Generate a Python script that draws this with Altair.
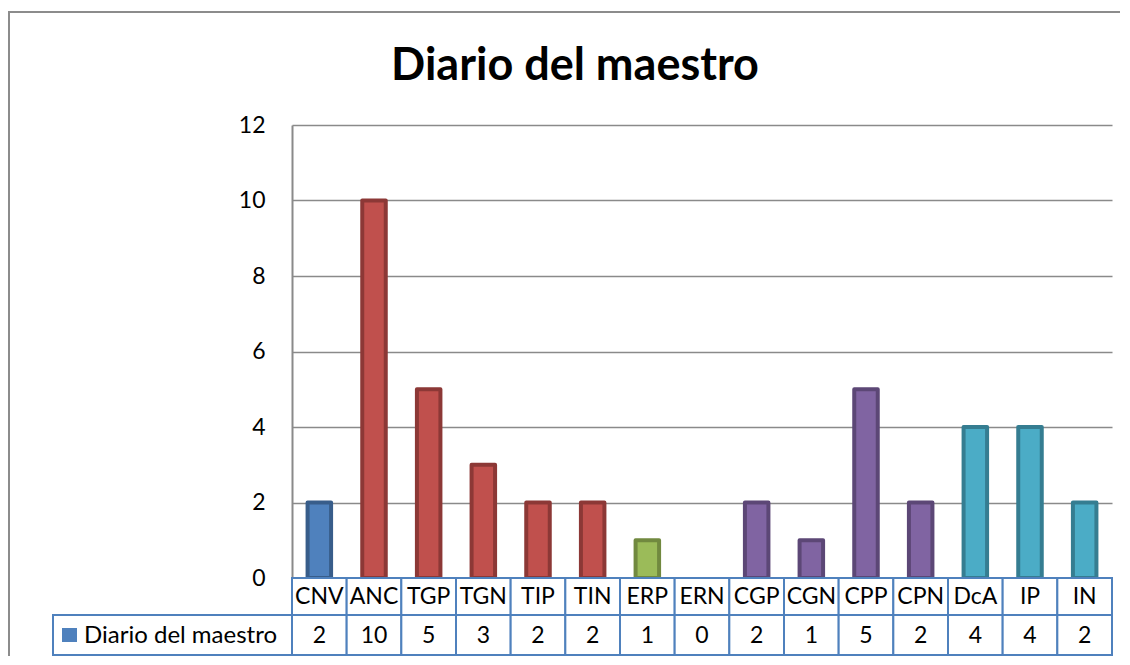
import altair as alt
import pandas as pd

categories = ["CNV", "ANC", "TGP", "TGN", "TIP", "TIN", "ERP", "ERN",
              "CGP", "CGN", "CPP", "CPN", "DcA", "IP", "IN"]
values = [2, 10, 5, 3, 2, 2, 1, 0, 2, 1, 5, 2, 4, 4, 2]
fill_colors = ["#4F81BD", "#C0504D", "#C0504D", "#C0504D", "#C0504D", "#C0504D",
               "#9BBB59", "#9BBB59", "#8064A2", "#8064A2", "#8064A2", "#8064A2",
               "#4BACC6", "#4BACC6", "#4BACC6"]
stroke_colors = ["#385D8A", "#8C3836", "#8C3836", "#8C3836", "#8C3836", "#8C3836",
                 "#71893F", "#71893F", "#5C4776", "#5C4776", "#5C4776", "#5C4776",
                 "#357D91", "#357D91", "#357D91"]
y_ticks = [0, 2, 4, 6, 8, 10, 12]
series_name = "Diario del maestro"
title_text = "Diario del maestro"

df = pd.DataFrame({"cat": categories, "val": values,
                   "fill": fill_colors, "stroke": stroke_colors})
df["label"] = df["val"].astype(str)

W, H = 820, 453
TABLE = "#4F81BD"
GRID = "#8A8A8A"
FONT = "Lato"
FS = 23

xband = alt.X("cat:N", sort=categories,
              scale=alt.Scale(paddingInner=0, paddingOuter=0), axis=None)

base = alt.Chart(df)

bars = base.transform_filter("datum.val > 0").mark_bar(
    width=alt.RelativeBandSize(0.43), strokeWidth=4, strokeJoin="round"
).encode(
    x=xband,
    y=alt.Y("val:Q", scale=alt.Scale(domain=[0, 12], nice=False),
            axis=alt.Axis(values=y_ticks, title=None, grid=True, gridColor=GRID,
                          gridWidth=1.5, domainColor=GRID, domainWidth=2,
                          ticks=False, labelFontSize=FS, labelFont=FONT,
                          labelColor="black", labelPadding=27)),
    color=alt.Color("fill:N", scale=None),
    stroke=alt.Stroke("stroke:N", scale=None),
)

row1 = base.mark_rect(fill="white", stroke=TABLE, strokeWidth=2).encode(
    x=xband, y=alt.value(H), y2=alt.value(H + 37))
row2 = base.mark_rect(fill="white", stroke=TABLE, strokeWidth=2).encode(
    x=xband, y=alt.value(H + 37), y2=alt.value(H + 77))
cat_text = base.mark_text(fontSize=FS, font=FONT, color="black",
                          baseline="middle").encode(
    x=xband, y=alt.value(H + 19), text="cat:N")
val_text = base.mark_text(fontSize=FS, font=FONT, color="black",
                          baseline="middle").encode(
    x=xband, y=alt.value(H + 58), text="label:N")

leg = alt.Chart(pd.DataFrame({"name": [series_name]}))
leg_cell = leg.mark_rect(fill="white", stroke=TABLE, strokeWidth=2).encode(
    x=alt.value(-239), x2=alt.value(0), y=alt.value(H + 37), y2=alt.value(H + 77))
leg_sw = leg.mark_rect(fill="#4F81BD").encode(
    x=alt.value(-230), x2=alt.value(-215), y=alt.value(H + 50), y2=alt.value(H + 64))
leg_txt = leg.mark_text(fontSize=24, font=FONT, color="black", align="left",
                        baseline="middle").encode(
    x=alt.value(-208), y=alt.value(H + 58), text="name:N")

border_top = leg.mark_rule(color="#8C8C8C", strokeWidth=2).encode(
    x=alt.value(-284), x2=alt.value(W + 8), y=alt.value(-113))
border_left = leg.mark_rule(color="#8C8C8C", strokeWidth=2).encode(
    x=alt.value(-283), y=alt.value(-113), y2=alt.value(H + 80))

title = alt.Chart(pd.DataFrame({"t": [title_text]})).mark_text(
    fontSize=45, font=FONT, fontWeight="bold", color="black", baseline="middle"
).encode(x=alt.value(283), y=alt.value(-59), text="t:N")

chart = alt.layer(
    border_top, border_left, bars, row1, row2, cat_text, val_text,
    leg_cell, leg_sw, leg_txt, title
).properties(
    width=W, height=H,
    padding={"left": 284, "top": 117, "right": 8, "bottom": 78},
    autosize=alt.AutoSizeParams(type="none"),
    background="white",
).configure_view(stroke=None)

chart.save("out.html", embed_options={"renderer": "svg", "actions": False})
